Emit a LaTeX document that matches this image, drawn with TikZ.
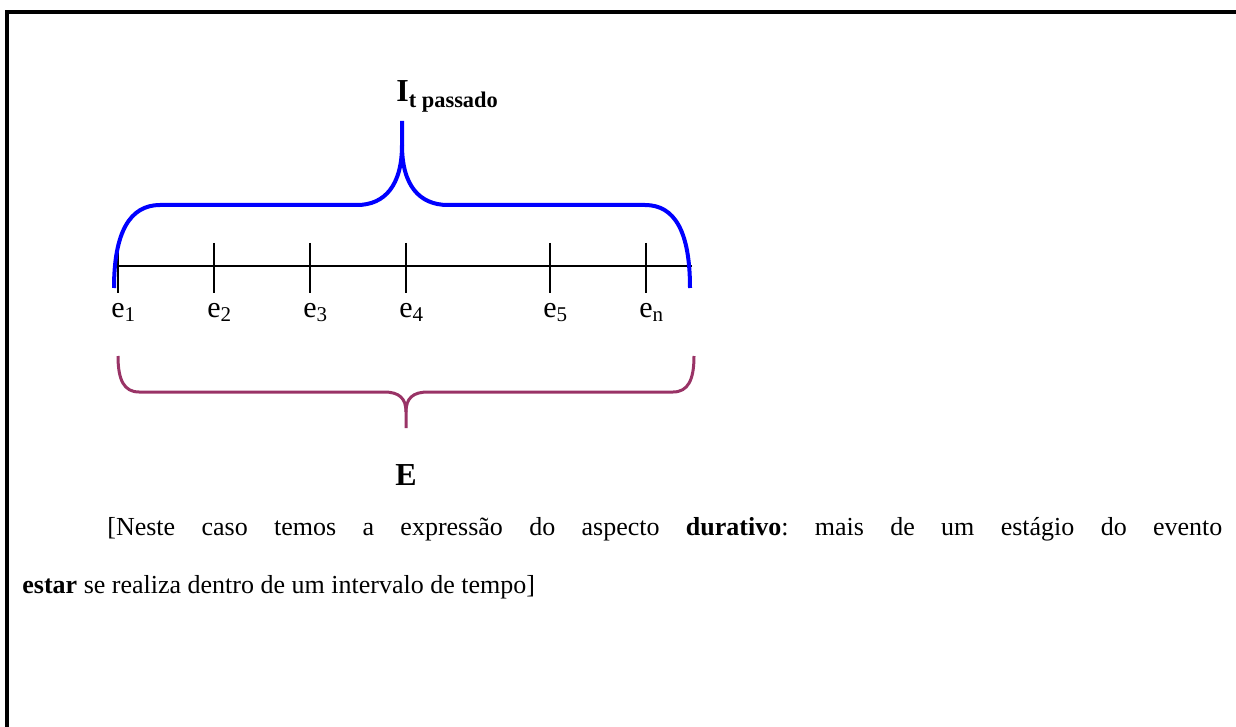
\documentclass[tikz,border=0pt]{standalone}
\usepackage{fontspec}
\setmainfont{Liberation Serif}
\usetikzlibrary{positioning}
\definecolor{plum}{RGB}{153,51,102}
\frenchspacing

\begin{document}
\begin{tikzpicture}[x=0.5pt,y=-0.5pt,
  tickline/.style={line width=0.7pt},
  evlabel/.style={anchor=base west,inner sep=0pt,font=\fontsize{15}{17}\selectfont},
  biglabel/.style={anchor=base,inner sep=0pt,font=\fontsize{16}{19}\selectfont\bfseries},
  bluebrace/.style={draw=blue,line width=2pt},
  plumbrace/.style={draw=plum,line width=1.5pt}]
\useasboundingbox (0,0) rectangle (1236,727);
% frame, only top and left visible
\draw[line width=2pt] (1236,12) -- (7,12) -- (7,727);
% time axis
\coordinate (ax0) at (118,266);
\coordinate (ax1) at (692,266);
\draw[line width=0.6pt] (ax0) -- (ax1);
\draw[tickline] (118,243) -- (118,293);
\draw[tickline] (214,243) -- (214,293);
\draw[tickline] (310,243) -- (310,293);
\draw[tickline] (406,243) -- (406,293);
\draw[tickline] (550,243) -- (550,293);
\draw[tickline] (646,243) -- (646,293);
\node[evlabel] (ev1) at (111,317) {e\textsubscript{1}};
\node[evlabel] (ev2) at (207,317) {e\textsubscript{2}};
\node[evlabel] (ev3) at (303,317) {e\textsubscript{3}};
\node[evlabel] (ev4) at (399,317) {e\textsubscript{4}};
\node[evlabel] (ev5) at (543,317) {e\textsubscript{5}};
\node[evlabel] (evn) at (639,317) {e\textsubscript{n}};
% upper brace
\draw[bluebrace] (114,288) .. controls (114,232) and (130,205) .. (160,205) -- (357,205)
  .. controls (385,205) and (402,185) .. (402,145) -- (402,121);
\draw[bluebrace] (402,145) .. controls (402,185) and (419,205) .. (448,205) -- (645,205)
  .. controls (675,205) and (690,232) .. (690,288);
\node[biglabel,anchor=base west] (itp) at (396,102) {I\textsubscript{t passado}};
% lower brace
\draw[plumbrace] (118,356) .. controls (118,380) and (124,392) .. (139,392) -- (384,392)
  .. controls (399,392) and (406,398) .. (406,412) -- (406,428);
\draw[plumbrace] (406,412) .. controls (406,398) and (413,392) .. (428,392) -- (673,392)
  .. controls (688,392) and (694,380) .. (694,356);
\node[biglabel] (ev) at (406,485) {E};
% comment line
\node[anchor=base west,inner sep=0pt,text width=600pt,align=justify,font=\fontsize{13}{29}\selectfont] (txt) at (22,535)
  {\hspace*{42.5pt}[Neste caso temos a expressão do aspecto \textbf{durativo}: mais de um estágio do evento\linebreak
  \textbf{estar} se realiza dentro de um intervalo de tempo]};
\end{tikzpicture}
\end{document}
